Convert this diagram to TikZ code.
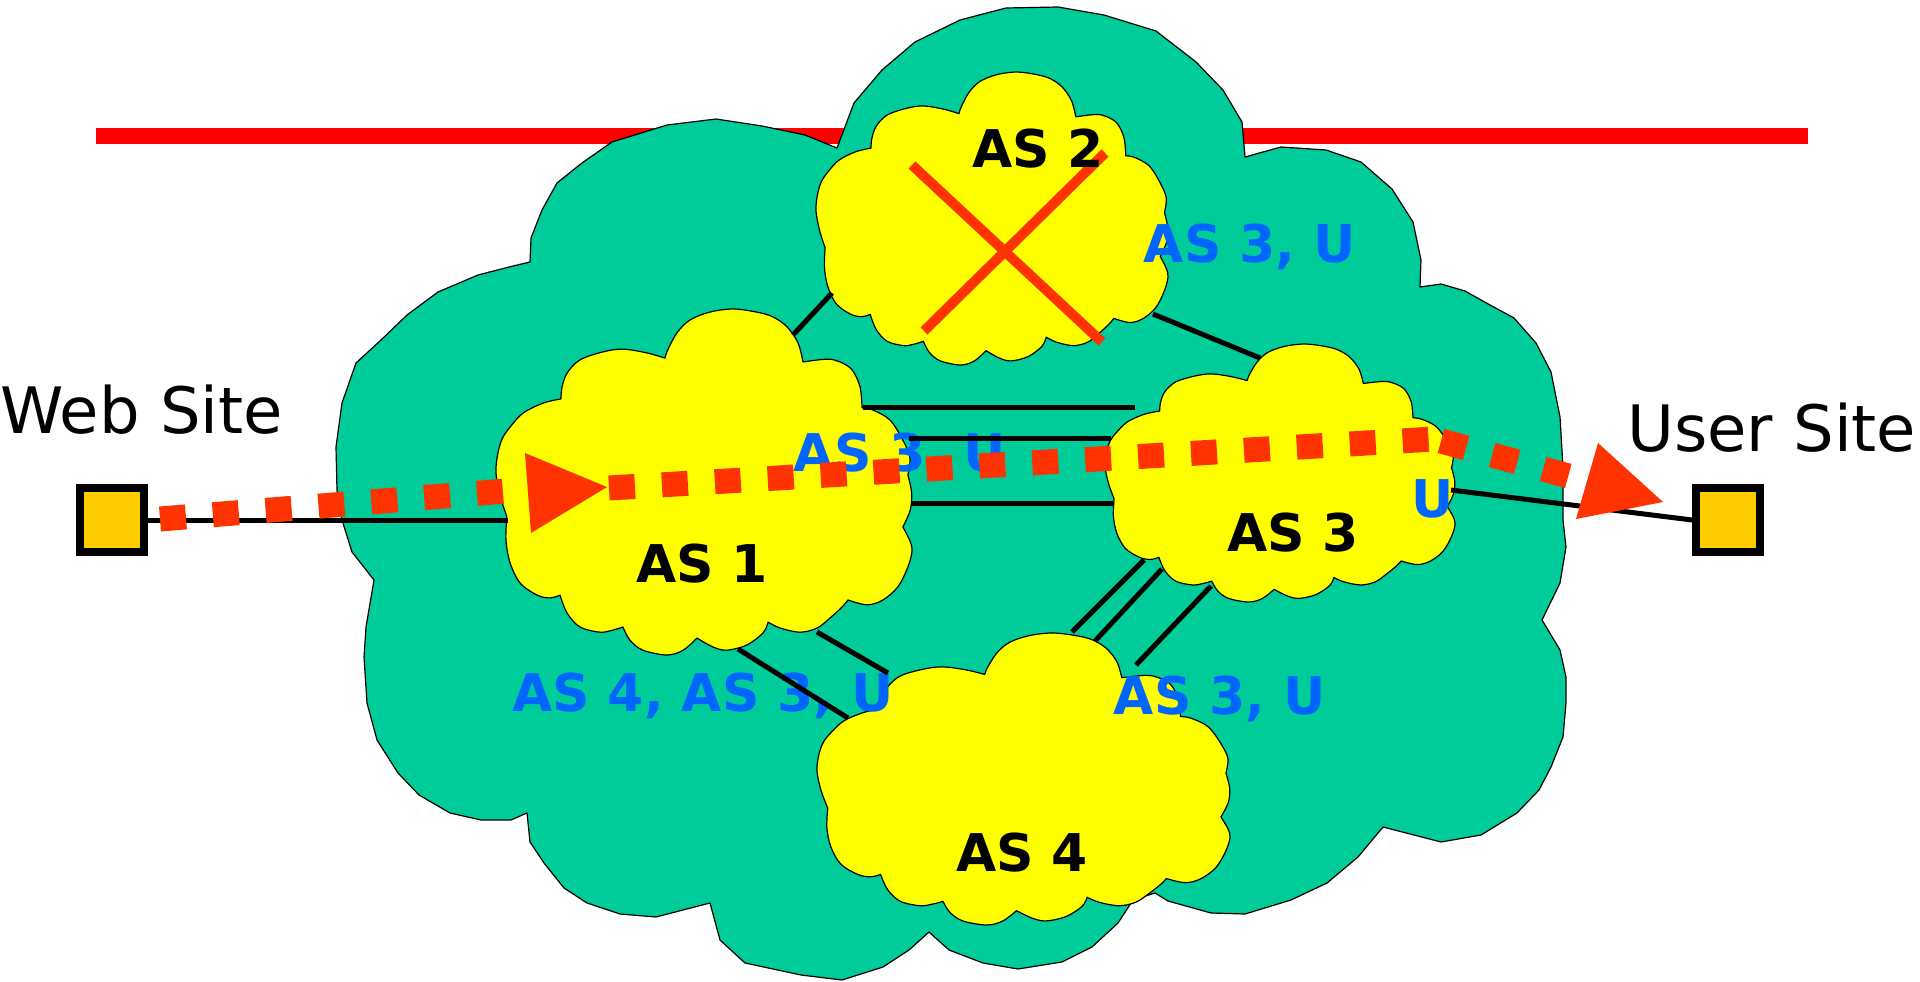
\documentclass[tikz,border=0pt]{standalone}
\usepackage{fontspec}
\setmainfont{DejaVu Sans}

\definecolor{netgreen}{RGB}{0,204,153}
\definecolor{asyellow}{RGB}{255,255,0}
\definecolor{flowred}{RGB}{255,51,0}
\definecolor{routeblue}{RGB}{0,102,255}
\definecolor{hostfill}{RGB}{255,204,0}
\definecolor{barred}{RGB}{255,0,0}

\tikzset{
  netcloud/.style={fill=netgreen, draw=black, line width=1.2pt, line join=round},
  ascloud/.style={fill=asyellow, draw=black, line width=1.2pt, line join=round},
  link/.style={draw=black, line width=5pt},
  host/.style={draw=black, fill=hostfill, line width=7.5pt, minimum width=64pt,
               minimum height=64pt, inner sep=0pt},
  aslabel/.style={font=\fontsize{52}{60}\selectfont\bfseries, text=black,
                  inner sep=0pt, anchor=base},
  routelabel/.style={font=\fontsize{52}{60}\selectfont\bfseries, text=routeblue,
                     inner sep=0pt, anchor=base},
  sitelabel/.style={font=\fontsize{64}{72}\selectfont, inner sep=0pt, anchor=base west},
  flow/.style={draw=flowred, line width=25pt, dash pattern=on 26pt off 27pt},
  flowhead/.style={fill=flowred},
  crossbar/.style={draw=flowred, line width=10pt},
}

% scalloped AS cloud: #1,#2 top-left corner, #3 width, #4 height
\newcommand{\drawascloud}[4]{%
  \draw[ascloud, shift={(#1,#2)}, xscale=#3, yscale=#4]
    plot[smooth,tension=0.55] coordinates {(0.026,0.60) (0.01,0.54) (0,0.474) (0.004,0.42) (0.015,0.375) (0.034,0.341) (0.065,0.301) (0.113,0.272) (0.156,0.260)}
 -- plot[smooth,tension=0.55] coordinates {(0.156,0.260) (0.159,0.225) (0.171,0.185) (0.202,0.147) (0.257,0.124) (0.305,0.116) (0.363,0.127) (0.406,0.142)}
 -- plot[smooth,tension=0.55] coordinates {(0.406,0.142) (0.413,0.118) (0.435,0.069) (0.466,0.032) (0.514,0.009) (0.57,0) (0.627,0.009) (0.666,0.023) (0.7,0.052) (0.726,0.098) (0.738,0.153)}
 -- plot[smooth,tension=0.55] coordinates {(0.738,0.153) (0.796,0.145) (0.827,0.153) (0.856,0.176) (0.875,0.225) (0.88,0.286)}
 -- plot[smooth,tension=0.55] coordinates {(0.88,0.286) (0.906,0.292) (0.947,0.321) (0.978,0.379) (0.995,0.43) (0.99,0.48)}
 -- plot[smooth,tension=0.55] coordinates {(0.99,0.48) (0.999,0.53) (0.996,0.58) (0.978,0.63)}
 -- plot[smooth,tension=0.55] coordinates {(0.978,0.63) (0.995,0.67) (1.0,0.70) (0.99,0.746) (0.966,0.803) (0.93,0.841) (0.892,0.855) (0.846,0.841)}
 -- plot[smooth,tension=0.55] coordinates {(0.846,0.841) (0.832,0.861) (0.803,0.893) (0.772,0.922) (0.731,0.934) (0.683,0.922) (0.654,0.905)}
 -- plot[smooth,tension=0.55] coordinates {(0.654,0.905) (0.642,0.936) (0.603,0.971) (0.555,0.986) (0.522,0.977) (0.483,0.951)}
 -- plot[smooth,tension=0.55] coordinates {(0.483,0.951) (0.45,0.986) (0.411,1.0) (0.353,0.986) (0.322,0.957) (0.305,0.919)}
 -- plot[smooth,tension=0.55] coordinates {(0.305,0.919) (0.281,0.928) (0.25,0.934) (0.202,0.919) (0.171,0.879) (0.154,0.827)}
 -- plot[smooth,tension=0.55] coordinates {(0.154,0.827) (0.13,0.835) (0.099,0.827) (0.058,0.792) (0.034,0.734) (0.024,0.668) (0.026,0.60)}
 -- cycle;}

\begin{document}
\begin{tikzpicture}[x=1pt,y=-1pt]
\useasboundingbox (0,0) rectangle (1920,982);

% red bar behind the network
\fill[barred] (96,128) rectangle (1808,144);

% the network cloud
\draw[netcloud] (837,148) -- (854,103) -- (882,70) -- (915,42) -- (960,20) -- (1006,8)
  -- (1058,7) -- (1104,15) -- (1156,31) -- (1196,62) -- (1223,90) -- (1242,122) -- (1245,157)
  -- (1281,147) -- (1326,150) -- (1361,162) -- (1392,189) -- (1413,222) -- (1421,260) -- (1420,287)
  -- (1441,284) -- (1465,291) -- (1490,305) -- (1514,318) -- (1536,343) -- (1551,372) -- (1560,417)
  -- (1563,467) -- (1563,520) -- (1566,547) -- (1560,583) -- (1542,620)
  -- (1560,650) -- (1566,677) -- (1566,703) -- (1563,737) -- (1551,767) -- (1539,790) -- (1517,813)
  -- (1481,835) -- (1441,842) -- (1383,827)
  -- (1358,857) -- (1327,883) -- (1291,900) -- (1245,914) -- (1211,913) -- (1168,901) -- (1155,893)
  -- (1133,900) -- (1118,923) -- (1092,947) -- (1062,962) -- (1018,969) -- (983,963) -- (949,950) -- (929,932)
  -- (909,950) -- (883,967) -- (842,980) -- (801,975) -- (745,963) -- (720,940) -- (710,903)
  -- (656,917) -- (620,914) -- (587,903) -- (564,888) -- (544,863) -- (530,842) -- (527,813)
  -- (511,820) -- (481,820) -- (450,813) -- (419,795) -- (398,773) -- (377,740) -- (367,703)
  -- (364,657) -- (366,627) -- (374,580)
  -- (352,552) -- (342,520) -- (337,490) -- (336,447) -- (342,403) -- (356,363) -- (381,340)
  -- (407,315) -- (438,292) -- (478,275) -- (513,266) -- (530,262)
  -- (531,238) -- (542,210) -- (557,183) -- (582,163) -- (612,142) -- (667,125) -- (716,119)
  -- (762,126) -- (805,135) -- cycle;

% autonomous systems
\drawascloud{496}{309}{416}{346}
\drawascloud{816}{72}{352}{293}
\drawascloud{1105}{344}{350}{258}
\drawascloud{817}{633}{413}{292}

% withdrawn AS 2
\coordinate (xa1) at (912,165);  \coordinate (xa2) at (1102,342);
\coordinate (xb1) at (924,331);  \coordinate (xb2) at (1105,153);
\draw[crossbar] (xa1) -- (xa2);
\draw[crossbar] (xb1) -- (xb2);

% AS names
\node[aslabel] (as1) at (702,582) {AS 1};
\node[aslabel] (as2) at (1038,167) {AS 2};
\node[aslabel] (as3) at (1293,551) {AS 3};
\node[aslabel] (as4) at (1022,871) {AS 4};

% advertised paths
\node[routelabel] (r2) at (1250,262) {AS 3, U};
\node[routelabel] (r1) at (900,471) {AS 3, U};
\node[routelabel] (r3) at (1433,517) {U};
\node[routelabel] (r14) at (703,711) {AS 4, AS 3, U};
\node[routelabel] (r4) at (1220,714) {AS 3, U};

% end hosts
\node[host] (web) at (112,520) {};
\node[host] (user) at (1728,520) {};
\node[sitelabel] (weblabel) at (0,433) {Web Site};
\node[sitelabel] (userlabel) at (1627,451) {User Site};

% link end points
\coordinate (w1) at (508,520);
\coordinate (u1) at (1451,490);
\coordinate (p12a) at (793,335);  \coordinate (p12b) at (832,293);
\coordinate (p23a) at (1153,314); \coordinate (p23b) at (1260,358);
\coordinate (h1a) at (863,407);   \coordinate (h1b) at (1135,407);
\coordinate (h2a) at (909,438);   \coordinate (h2b) at (1111,438);
\coordinate (h3a) at (912,503);   \coordinate (h3b) at (1113,503);
\coordinate (d1a) at (738,649);   \coordinate (d1b) at (848,718);
\coordinate (d2a) at (817,632);   \coordinate (d2b) at (888,673);
\coordinate (e1a) at (1144,560);  \coordinate (e1b) at (1072,632);
\coordinate (e2a) at (1162,569);  \coordinate (e2b) at (1095,641);
\coordinate (e3a) at (1211,586);  \coordinate (e3b) at (1136,665);

% links
\draw[link] (web.east) -- (w1);
\draw[link] (u1) -- (user.west);
\draw[link] (p12a) -- (p12b);
\draw[link] (p23a) -- (p23b);
\draw[link] (h1a) -- (h1b);
\draw[link] (h2a) -- (h2b);
\draw[link] (h3a) -- (h3b);
\draw[link] (d1a) -- (d1b);
\draw[link] (d2a) -- (d2b);
\draw[link] (e1a) -- (e1b);
\draw[link] (e2a) -- (e2b);
\draw[link] (e3a) -- (e3b);

% traffic flow from the web site to the user
\coordinate (f0) at (160,519);
\coordinate (f1) at (506,491);
\coordinate (g0) at (609,488);
\coordinate (g1) at (1434,439);
\coordinate (k0) at (1441,441);
\coordinate (k1) at (1572,477);
\draw[flow] (f0) -- (f1);
\draw[flow] (g0) -- (g1);
\draw[flow] (k0) -- (k1);
\coordinate (t1a) at (525,453); \coordinate (t1b) at (607,487); \coordinate (t1c) at (531,533);
\coordinate (t2a) at (1598,443); \coordinate (t2b) at (1663,502); \coordinate (t2c) at (1576,519);
\fill[flowhead] (t1a) -- (t1b) -- (t1c) -- cycle;
\fill[flowhead] (t2a) -- (t2b) -- (t2c) -- cycle;
\end{tikzpicture}
\end{document}
